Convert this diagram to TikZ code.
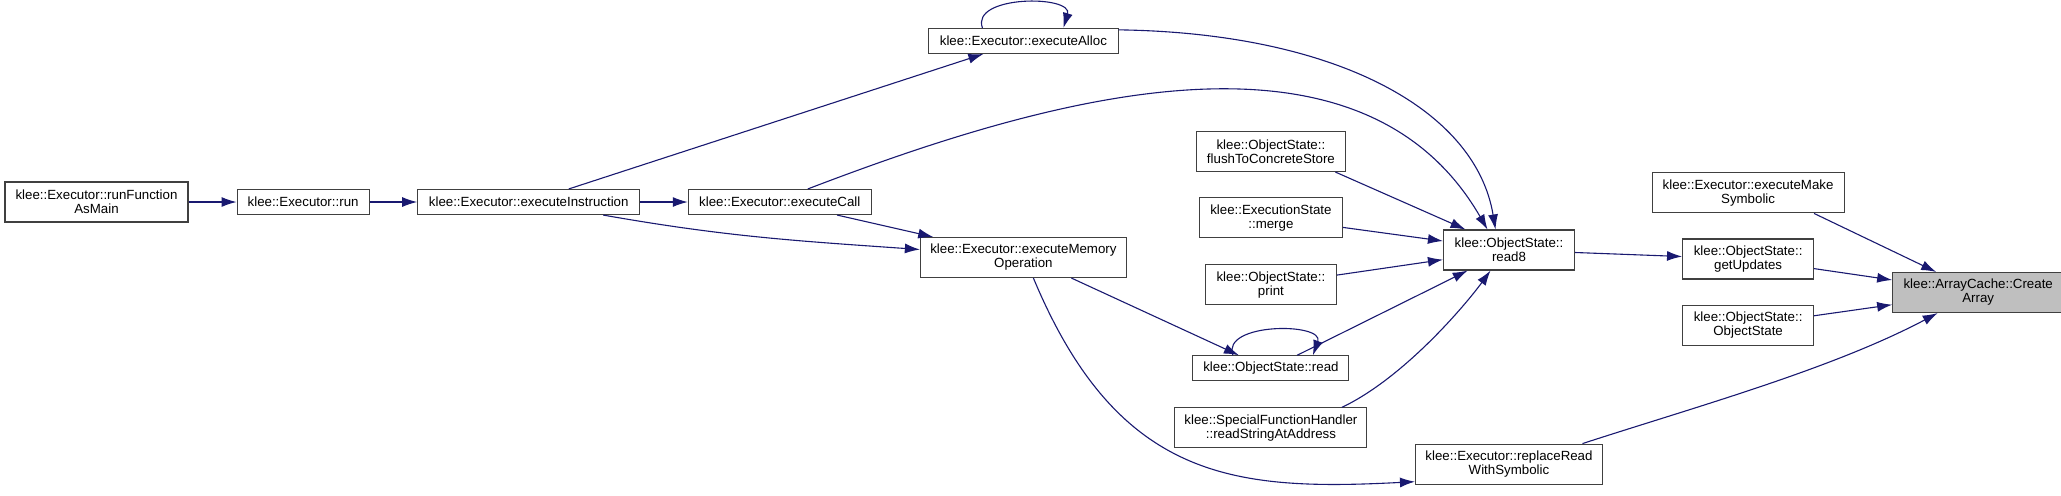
\documentclass[tikz,border=0pt]{standalone}
\usepackage{fontspec}
\setmainfont{Liberation Sans}
\usetikzlibrary{positioning,arrows.meta,calc}
\definecolor{edgeblue}{RGB}{25,25,112}
\definecolor{rootgrey}{RGB}{191,191,191}

\begin{document}
\begin{tikzpicture}[>={Latex[length=7.5pt,width=5pt]},x=0.5pt,y=0.5pt,
  font=\fontsize{6.65}{7}\selectfont,
  fn/.style={draw=black!75,line width=0.55pt,fill=white,align=center,inner sep=1pt,minimum height=20pt},
  fnone/.style={fn,minimum height=12.5pt},
  call/.style={->,draw=edgeblue,line width=0.55pt}]
\useasboundingbox (0,0) rectangle (2061,-495);

% callers, left to right
\node[fn,minimum width=91.5pt] (runmain) at (96.5,-202) {klee::Executor::runFunction\\AsMain};
\node[fnone,minimum width=66pt,right=24pt of runmain] (run) {klee::Executor::run};
\node[fnone,minimum width=111pt,right=23.75pt of run] (execinstr) {klee::Executor::executeInstruction};
\node[fnone,minimum width=91.5pt,right=23.75pt of execinstr] (execcall) {klee::Executor::executeCall};
\node[fn,minimum width=103pt,right=24pt of execcall,yshift=-27.75pt] (execmem) {klee::Executor::executeMemory\\Operation};
\node[fnone,minimum width=94.75pt,above=91.5pt of execmem] (execalloc) {klee::Executor::executeAlloc};

\node[fn,minimum width=65.5pt,right=158pt of execmem,yshift=3.75pt] (read8) {klee::ObjectState::\\read8};
\node[fn,minimum width=74.5pt,left=48.5pt of read8,yshift=49.25pt] (flush) {klee::ObjectState::\\flushToConcreteStore};
\node[fn,minimum width=71.5pt,below=12.5pt of flush] (merge) {klee::ExecutionState\\::merge};
\node[fn,minimum width=65.5pt,below=13pt of merge] (print) {klee::ObjectState::\\print};
\node[fnone,minimum width=78pt,below=25pt of print] (read) {klee::ObjectState::read};
\node[fn,minimum width=96pt,below=13pt of read] (readstr) {klee::SpecialFunctionHandler\\::readStringAtAddress};
\node[fn,minimum width=93.5pt,below=86.5pt of read8] (replace) {klee::Executor::replaceRead\\WithSymbolic};

\node[fn,minimum width=65.5pt,right=53.5pt of read8,yshift=-4.5pt] (getupd) {klee::ObjectState::\\getUpdates};
\node[fn,minimum width=96pt,above=12.5pt of getupd] (makesym) {klee::Executor::executeMake\\Symbolic};
\node[fn,minimum width=65.5pt,below=12.5pt of getupd] (objstate) {klee::ObjectState::\\ObjectState};
\node[fn,minimum width=85.5pt,fill=rootgrey,right=39pt of getupd,yshift=-16.75pt] (createarr) {klee::ArrayCache::Create\\Array};

% calls
\draw[call] (runmain) -- (run);
\draw[call] (run) -- (execinstr);
\draw[call] (execinstr) -- (execcall);
\draw[call] (execinstr) -- (execalloc);
\draw[call] ([xshift=37.25pt]execinstr.south) to[out=-10,in=176] ([yshift=4pt]execmem.west);
\draw[call] (execcall) -- (execmem);
\draw[call] ([xshift=-20.5pt]execalloc.north) .. controls +(-12,33) and +(10,33) .. ([xshift=20pt]execalloc.north);
\draw[call] ([yshift=-1pt]execalloc.north east) .. controls +(215,-3) and +(-20,121) .. ([xshift=-6.75pt]read8.north);
\draw[call] ([xshift=14pt]execcall.north) .. controls +(233.5,89.5) and +(-129.3,224) .. ([xshift=-10.75pt]read8.north);
\draw[call] ([xshift=32.25pt]flush.south) -- ([xshift=-21.75pt]read8.north);
\draw[call] (merge) -- (read8);
\draw[call] (print) -- (read8);
\draw[call] (read) -- (read8);
\draw[call] ([xshift=-19pt]read.north) .. controls +(-12,33) and +(12,33) .. ([xshift=21pt]read.north);
\draw[call] ([xshift=35.5pt]readstr.north) .. controls +(63,30) and +(-23.5,-32.4) .. ([xshift=-9.25pt]read8.south);
\draw[call] ([xshift=24pt]execmem.south) -- ([xshift=-16pt]read.north);
\draw[call] ([xshift=5pt]execmem.south) .. controls +(84.7,-203) and +(-180,-9.4) .. ([yshift=1.5pt]replace.south west);
\draw[call] (read8) -- (getupd);
\draw[call] ([xshift=33pt]makesym.south) -- ([xshift=-21pt]createarr.north);
\draw[call] (getupd) -- (createarr);
\draw[call] (objstate) -- (createarr);
\draw[call] ([xshift=36.75pt]replace.north) .. controls +(114,37) and +(-106,-56) .. ([xshift=-20.25pt]createarr.south);
\end{tikzpicture}
\end{document}
